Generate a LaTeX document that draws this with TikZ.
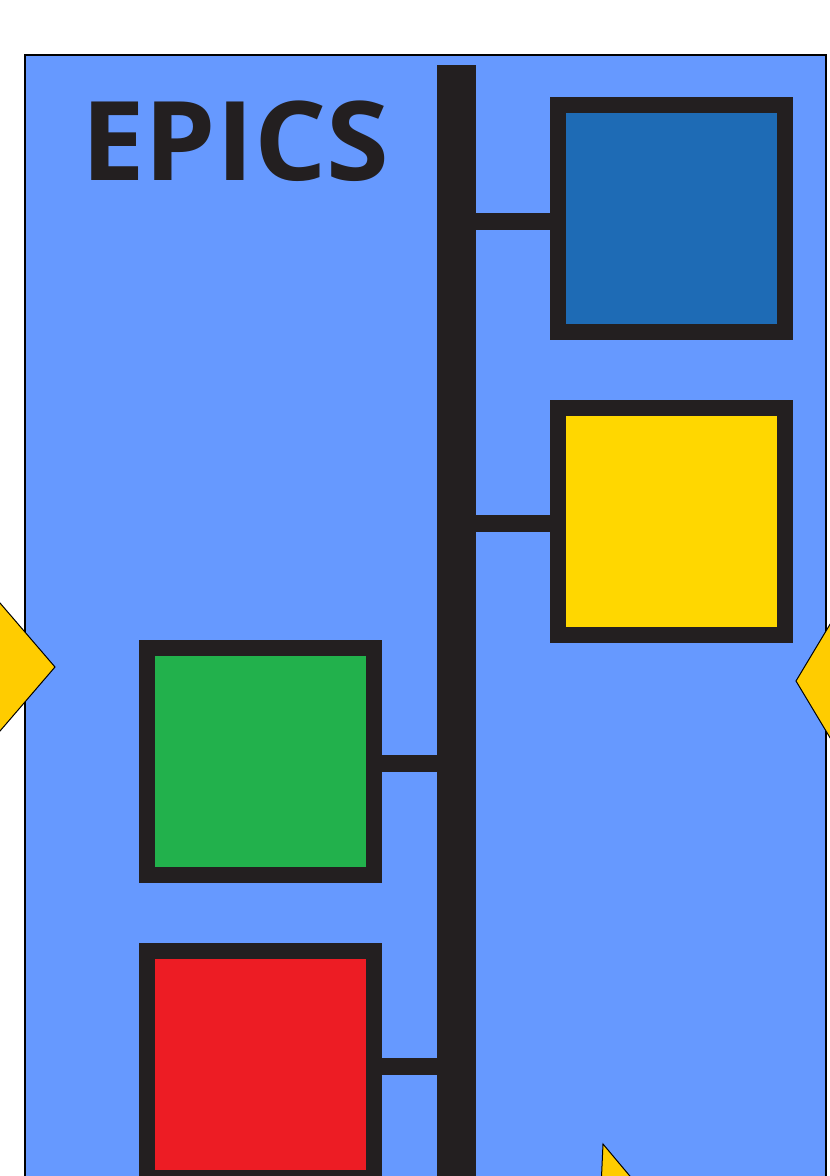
\documentclass[tikz,border=0pt]{standalone}
\usepackage{fontspec}
\usepackage{xcolor}
\usepackage{tikz}
\usetikzlibrary{positioning, calc}
\newfontfamily\titlefont{Open Sans}
\definecolor{panelblue}{HTML}{6699FF}
\definecolor{inkdark}{HTML}{231F20}
\definecolor{iocblue}{HTML}{1E6BB5}
\definecolor{iocyellow}{HTML}{FFD700}
\definecolor{iocgreen}{HTML}{22B14C}
\definecolor{iocred}{HTML}{ED1C24}
\definecolor{tipyellow}{HTML}{FFCC00}
\tikzset{
  iocbox/.style={
    rectangle,
    draw=inkdark,
    line width=16pt,
    minimum width=227pt,
    minimum height=227pt,
    inner sep=0pt
  },
  link/.style={
    draw=inkdark,
    line width=17pt
  },
  tip/.style={
    fill=tipyellow,
    draw=black,
    line width=1pt,
    line join=miter
  }
}

\begin{document}
\begin{tikzpicture}[
  x=1pt, y=-1pt,
  bus/.style={rectangle, fill=inkdark, inner sep=0pt, minimum width=39pt, minimum height=1140pt}
]
  \useasboundingbox (0,0) rectangle (830,1176);
  \clip (0,0) rectangle (830,1176);

  % PANEL
  \draw[fill=panelblue, draw=black, line width=1.5pt] (25,55) rectangle (826,1230);

  % TITLE
  \node (title) [anchor=base west, inner sep=0pt, text=inkdark, font=\titlefont\bfseries\fontsize{110}{110}\selectfont] at (81,180) {\scalebox{1.035}[1]{EPICS}};

  % BUS
  \node (bus) [bus] at (456.5,635) {};

  % IOC BOXES
  \node (iocA) [iocbox, fill=iocblue]   at (671.5,218.5) {};
  \node (iocB) [iocbox, fill=iocyellow] at (671.5,521) {};
  \node (iocC) [iocbox, fill=iocgreen]  at (260,761.5) {};
  \node (iocD) [iocbox, fill=iocred]    at (260,1064) {};

  % CONNECTIONS
  \draw[link] ([yshift=-3pt]bus.east |- iocA.west) -- ([yshift=-3pt]iocA.west);
  \draw[link] ([yshift=-2pt]bus.east |- iocB.west) -- ([yshift=-2pt]iocB.west);
  \draw[link] ([yshift=-2pt]bus.west |- iocC.east) -- ([yshift=-2pt]iocC.east);
  \draw[link] ([yshift=-2pt]bus.west |- iocD.east) -- ([yshift=-2pt]iocD.east);

  % NEIGHBOUR TIPS
  \draw[tip] (55,667) -- (0,731) -- (-55,667) -- (0,603) -- cycle;
  \draw[tip] (796,681) -- (856,581) -- (916,681) -- (856,781) -- cycle;
  \draw[tip] (603,1144) -- (650,1200) -- (600,1210) -- cycle;

\end{tikzpicture}
\end{document}
